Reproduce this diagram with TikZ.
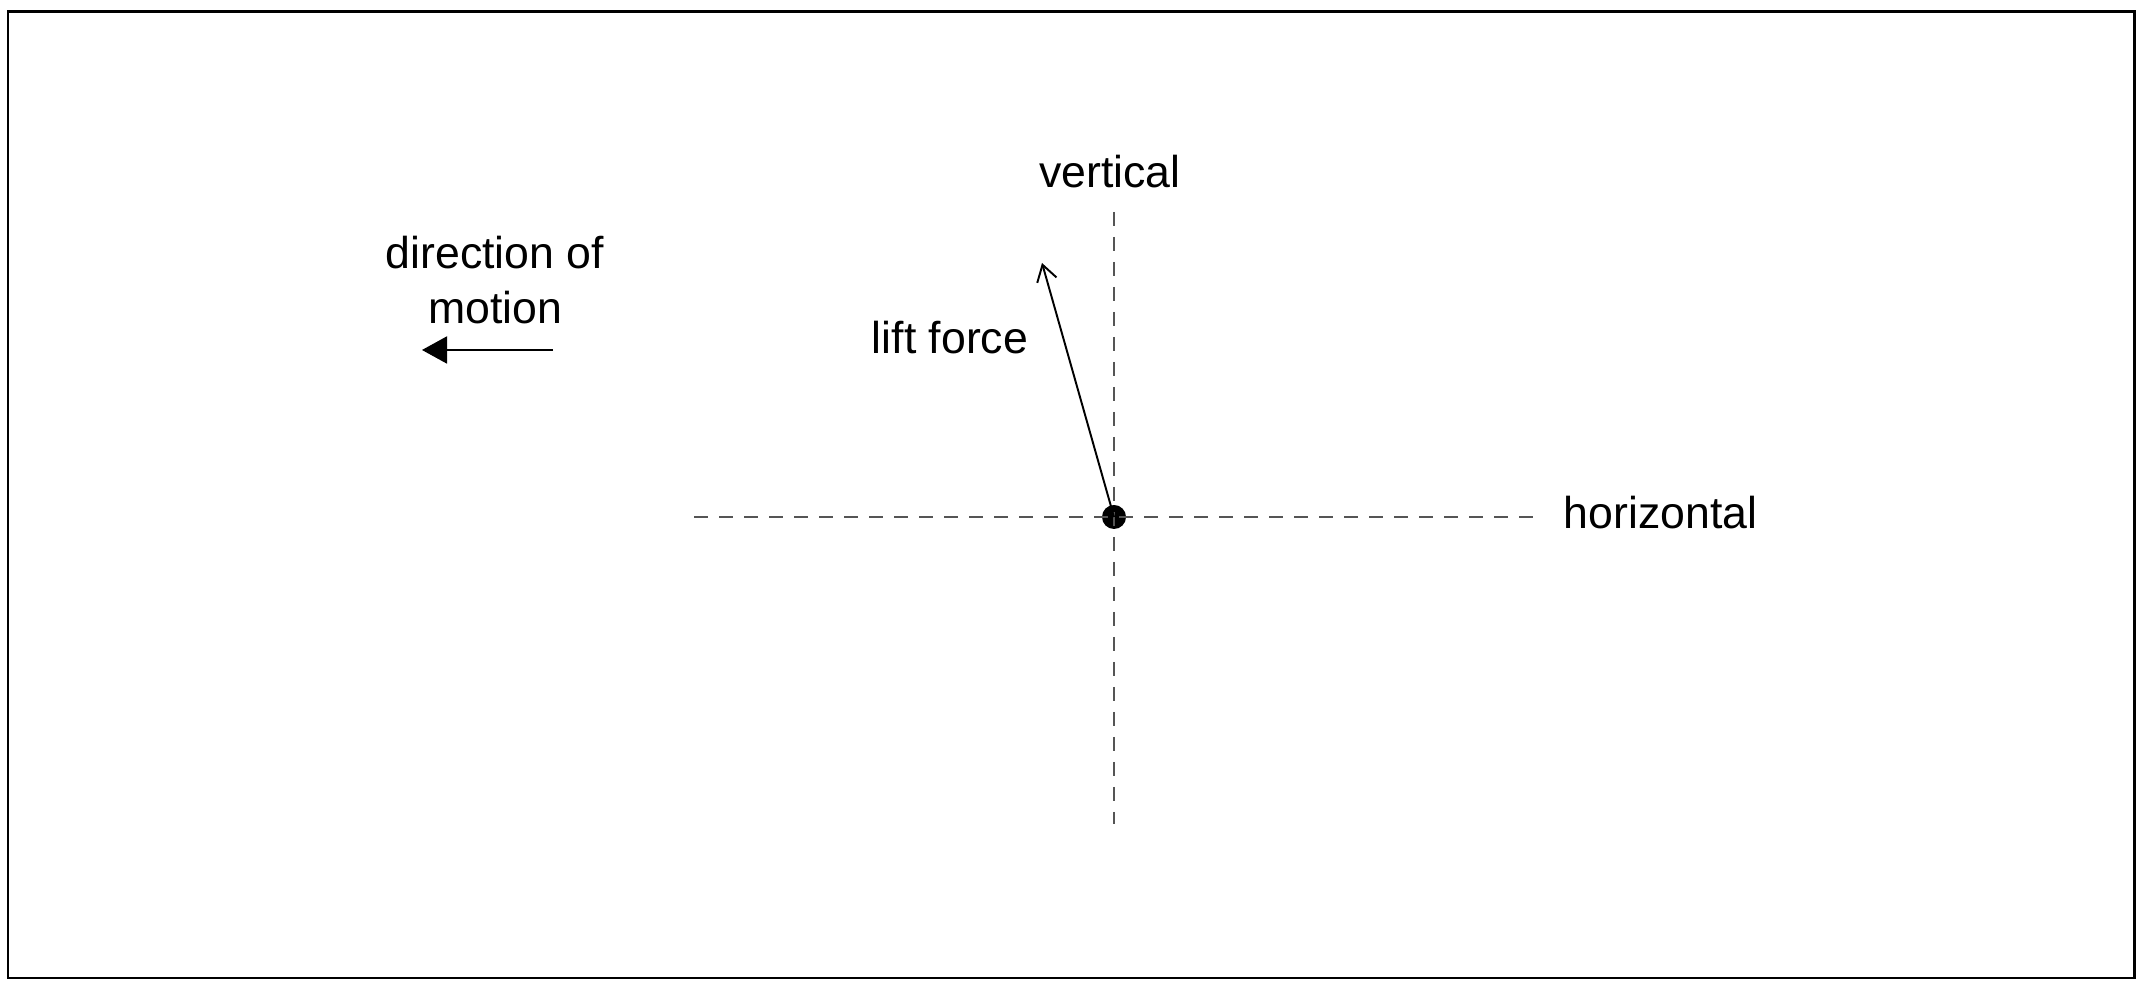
\documentclass[tikz,border=0pt]{standalone}
\usepackage{fontspec}
\setmainfont{Liberation Sans}
\usepackage{tikz}
\usetikzlibrary{arrows.meta, calc}
\definecolor{axisgray}{RGB}{85, 85, 85}

\begin{document}
\begin{tikzpicture}[font=\fontsize{12.7}{15.6}\selectfont,
		axis/.style={axisgray, line width=0.65pt, dash pattern=on 0.14cm off 0.11cm},
		label/.style={inner sep=0pt, align=center}]
			\useasboundingbox (0,0) rectangle (21.44,9.87);
			\draw[line width=0.85pt] (0.08,0.09) rectangle (21.34,9.75);
			% axes through the body
			\node (body) [circle, fill, inner sep=0pt, minimum size=0.24cm] at (11.14,4.70) {};
			\coordinate (vtop) at (11.14,7.75);
			\coordinate (vbot) at (11.14,1.63);
			\coordinate (hleft) at (6.94,4.70);
			\coordinate (hright) at (15.34,4.70);
			\draw[axis] (vtop) -- (vbot);
			\draw[axis] (hleft) -- (hright);
			\node[label] (vlabel) at (11.10,8.15) {vertical};
			\node[label, anchor=west] (hlabel) at (15.63,4.74) {horizontal};
			% lift
			\coordinate (lifttip) at (10.42,7.24);
			\draw[line width=0.55pt, -{Straight Barb[length=0.16cm, width=0.2cm]}] (body.center) -- (lifttip);
			\node[label] (lift) at (9.50,6.49) {lift force};
			% motion
			\node[label] (motion) at (4.95,7.07) {direction of\\motion};
			\coordinate (mstart) at (5.53,6.37);
			\coordinate (mend) at (4.22,6.37);
			\draw[line width=0.55pt, -{Triangle[length=0.25cm, width=0.27cm]}] (mstart) -- (mend);
		\end{tikzpicture}
\end{document}
